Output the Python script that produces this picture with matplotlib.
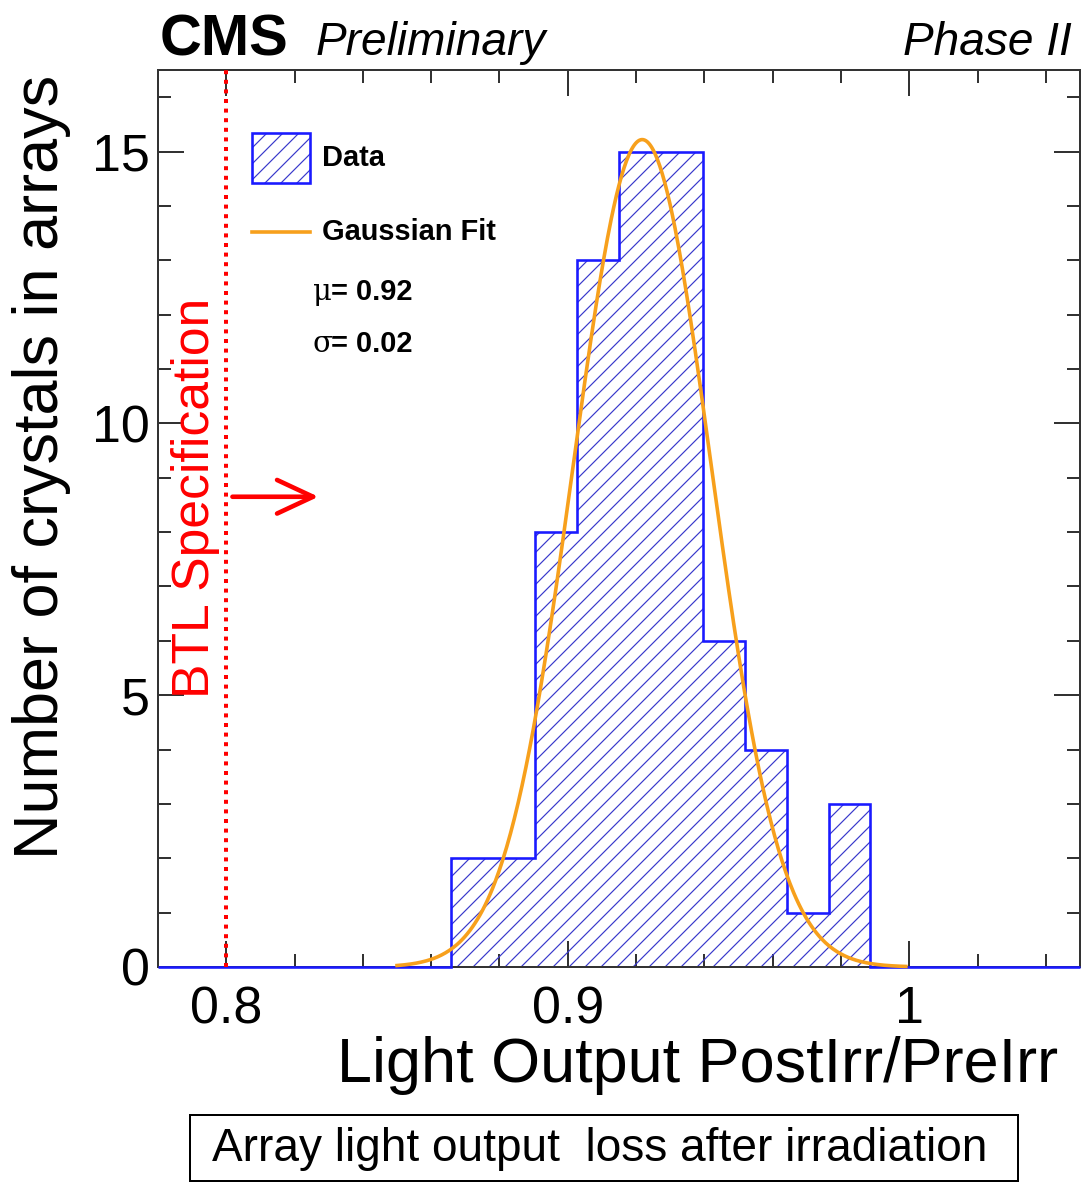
import numpy as np
import matplotlib
matplotlib.use("Agg")
import matplotlib.pyplot as plt
from matplotlib.ticker import MultipleLocator, FixedLocator, FixedFormatter
from matplotlib.patches import Rectangle
from matplotlib.lines import Line2D

# ---------------- data ----------------
hist_lo, hist_hi, n_bins = 0.78, 1.05, 22
counts = [0, 0, 0, 0, 0, 0, 0, 2, 2, 8, 13, 15, 15, 6, 4, 1, 3, 0, 0, 0, 0, 0]
fit_amp, fit_mu, fit_sigma = 15.22, 0.9218, 0.0202
fit_lo, fit_hi = 0.85, 0.999
spec_x = 0.80
arrow_y = 8.65
arrow_x0, arrow_x1 = 0.8018, 0.8270
x_major = [0.8, 0.9, 1.0]
x_major_labels = ["0.8", "0.9", "1"]
y_major = [0, 5, 10, 15]
y_major_labels = ["0", "5", "10", "15"]
legend_data = "Data"
legend_fit = "Gaussian Fit"
mu_text = "0.92"
sigma_text = "0.02"

plt.rcParams['font.family'] = ['Liberation Sans', 'DejaVu Sans']
plt.rcParams['hatch.linewidth'] = 0.6

W, H, DPI = 1081, 1182, 144
fig = plt.figure(figsize=(W / DPI, H / DPI), dpi=DPI)
L, R, T, B = 158, 1080, 70, 967
ax = fig.add_axes([L / W, 1 - B / H, (R - L) / W, (B - T) / H])
ax.set_xlim(0.78, 1.05)
ax.set_ylim(0, 16.5)

edges = np.linspace(hist_lo, hist_hi, n_bins + 1)
hist_blue = '#1a1aff'
hatch_blue = '#3a3acc'
ax.stairs(counts, edges, fill=True, facecolor='none', edgecolor=hatch_blue,
          hatch='///', linewidth=0, zorder=2)
ax.stairs(counts, edges, fill=False, color=hist_blue, linewidth=1.3,
          zorder=3, clip_on=False)

xf = np.linspace(fit_lo, fit_hi, 400)
yf = fit_amp * np.exp(-0.5 * ((xf - fit_mu) / fit_sigma) ** 2)
ax.plot(xf, yf, color='#f7a01c', linewidth=1.8, zorder=4, clip_on=False)

ax.axvline(spec_x, color='red', linestyle=(0, (1, 1.4)), linewidth=2.0, zorder=4)
ax.annotate('', xy=(arrow_x1, arrow_y), xytext=(arrow_x0, arrow_y),
            arrowprops=dict(arrowstyle='->,head_length=0.9,head_width=0.42',
                            color='red', lw=2.3, mutation_scale=20,
                            shrinkA=0, shrinkB=0), zorder=5)
ax.text((196 - L) / (R - L), (B - 498) / (B - T), 'BTL Specification',
        transform=ax.transAxes, rotation=90, ha='center', va='center',
        color='red', fontsize=25.8)

# ticks
ax.xaxis.set_major_locator(FixedLocator(x_major))
ax.xaxis.set_major_formatter(FixedFormatter(x_major_labels))
ax.xaxis.set_minor_locator(MultipleLocator(0.02))
ax.yaxis.set_major_locator(FixedLocator(y_major))
ax.yaxis.set_major_formatter(FixedFormatter(y_major_labels))
ax.yaxis.set_minor_locator(MultipleLocator(1))
ax.tick_params(which='both', direction='in', top=True, right=True,
               color='#333333', width=1.0)
ax.tick_params(which='major', length=13)
ax.tick_params(which='minor', length=6.5)
ax.tick_params(axis='x', which='major', labelsize=26, pad=9)
ax.tick_params(axis='y', which='major', labelsize=26, pad=4)
for s in ax.spines.values():
    s.set_linewidth(1.0)
    s.set_color('#333333')

# legend (manual)
def axfr(px, py):
    return (px - L) / (R - L), (B - py) / (B - T)

x0, y0 = axfr(252, 183)
x1, y1 = axfr(310, 133)
ax.add_patch(Rectangle((x0, y0), x1 - x0, y1 - y0, transform=ax.transAxes,
                       facecolor='none', edgecolor=hatch_blue, hatch='///',
                       linewidth=0, zorder=5))
ax.add_patch(Rectangle((x0, y0), x1 - x0, y1 - y0, transform=ax.transAxes,
                       facecolor='none', edgecolor=hist_blue, linewidth=1.3,
                       zorder=6))
tx, ty = axfr(322, 158)
ax.text(tx, ty, legend_data, transform=ax.transAxes, ha='left', va='center',
        fontsize=14.5, fontweight='bold')
lx0, ly = axfr(252, 232)
lx1, _ = axfr(310, 232)
ax.add_line(Line2D([lx0, lx1], [ly, ly], transform=ax.transAxes,
                   color='#f7a01c', linewidth=1.8))
tx, ty = axfr(322, 232)
ax.text(tx, ty, legend_fit, transform=ax.transAxes, ha='left', va='center',
        fontsize=14.5, fontweight='bold')
tx, ty = axfr(313, 292)
ax.text(tx, ty, '\u03bc', transform=ax.transAxes, ha='left', va='center',
        fontsize=14.5, family=['DejaVu Serif'])
ax.text(tx + 0.02, ty, '= ' + mu_text, transform=ax.transAxes, ha='left',
        va='center', fontsize=14.5, fontweight='bold')
tx, ty = axfr(313, 344)
ax.text(tx, ty, '\u03c3', transform=ax.transAxes, ha='left', va='center',
        fontsize=14.5, family=['DejaVu Serif'])
ax.text(tx + 0.02, ty, '= ' + sigma_text, transform=ax.transAxes, ha='left',
        va='center', fontsize=14.5, fontweight='bold')

# titles
fig.text(160 / W, 1 - 55 / H, 'CMS', fontsize=29, fontweight='bold',
         ha='left', va='baseline')
fig.text(316 / W, 1 - 55 / H, 'Preliminary', fontsize=23, style='italic',
         ha='left', va='baseline')
fig.text(1072 / W, 1 - 55 / H, 'Phase II', fontsize=23, style='italic',
         ha='right', va='baseline')

fig.text(1058 / W, 1 - 1082 / H, 'Light Output PostIrr/PreIrr', fontsize=31.5,
         ha='right', va='baseline')
fig.text(42 / W, 1 - 75 / H, 'Number of crystals in arrays', fontsize=31.5,
         rotation=90, ha='center', va='top')

# caption box
fig.patches.append(Rectangle((190 / W, 1 - 1181 / H), 828 / W, 66 / H,
                             transform=fig.transFigure, facecolor='white',
                             edgecolor='black', linewidth=1.0))
fig.text(600 / W, 1 - 1149 / H, 'Array light output  loss after irradiation',
         fontsize=23, ha='center', va='center')

fig.savefig('out.png', dpi=DPI)
